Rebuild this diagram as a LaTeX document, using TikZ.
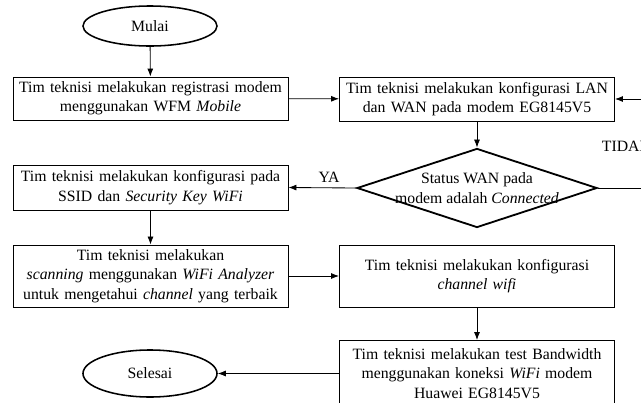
\documentclass[tikz,border=0pt]{standalone}
\usepackage{fontspec}
\setmainfont{Liberation Serif}
\usetikzlibrary{arrows.meta,positioning,shapes.geometric}

\begin{document}
\begin{tikzpicture}[
  x=0.025cm, y=-0.025cm,
  font=\fontsize{11.2}{13.8}\selectfont,
  proses/.style={draw, line width=0.6pt, align=center, minimum width=6.875cm,
                 text width=6.6cm, inner sep=2pt},
  terminal/.style={draw, ellipse, line width=1.1pt, minimum width=3.35cm,
                   minimum height=1cm, inner sep=0pt},
  keputusan/.style={draw, diamond, line width=1.3pt, minimum width=6cm,
                    minimum height=1.975cm, inner sep=0pt},
  alur/.style={-{Latex[length=2mm,width=1.5mm]}, line width=0.6pt}
]
\useasboundingbox (0,0) rectangle (641,403);

% kolom kiri
\node[terminal] (mulai) at (150,26) {Mulai};
\node[proses, minimum height=1.075cm] (registrasi) at (150.5,98.5)
  {Tim teknisi melakukan registrasi modem\\menggunakan WFM \textit{Mobile}};
\node[proses, minimum height=1.125cm] (ssid) at (150.5,187.5)
  {Tim teknisi melakukan konfigurasi pada\\SSID dan \textit{Security Key WiFi}};
\node[proses, minimum height=1.55cm] (scanning) at (150.5,276)
  {Tim teknisi melakukan\\\textit{scanning} menggunakan \textit{WiFi Analyzer}\\untuk mengetahui \textit{channel} yang terbaik};
\node[terminal, minimum height=1.175cm] (selesai) at (150,373.5) {Selesai};

% kolom kanan
\node[proses, minimum height=1.1cm] (lanwan) at (477,99)
  {Tim teknisi melakukan konfigurasi LAN\\dan WAN pada modem EG8145V5};
\node[keputusan] (status) at (477,188) {};
\node[align=center] (statusteks) at (status.center)
  {Status WAN pada\\modem adalah \textit{Connected}};
\node[proses, minimum height=1.55cm] (channel) at (477,276)
  {Tim teknisi melakukan konfigurasi\\\textit{channel wifi}};
\node[proses, minimum height=1.65cm] (bandwidth) at (477,373.5)
  {Tim teknisi melakukan test Bandwidth\\menggunakan koneksi \textit{WiFi} modem\\Huawei EG8145V5};
\coordinate (balik) at (655,188);

\draw[alur] (mulai) -- (registrasi);
\draw[alur] (registrasi) -- (lanwan);
\draw[alur] (lanwan) -- (status);
\draw[alur] (status.west) -- node[above, pos=0.4] (ya) {YA} (ssid.east);
\draw[alur] (status.east) -- (balik) |- (lanwan.east);
\node[anchor=west] (tidak) at (597,146) {TIDAK};
\draw[alur] (ssid) -- (scanning);
\draw[alur] (scanning) -- (channel);
\draw[alur] (channel) -- (bandwidth);
\draw[alur] (bandwidth) -- (selesai);
\end{tikzpicture}
\end{document}
